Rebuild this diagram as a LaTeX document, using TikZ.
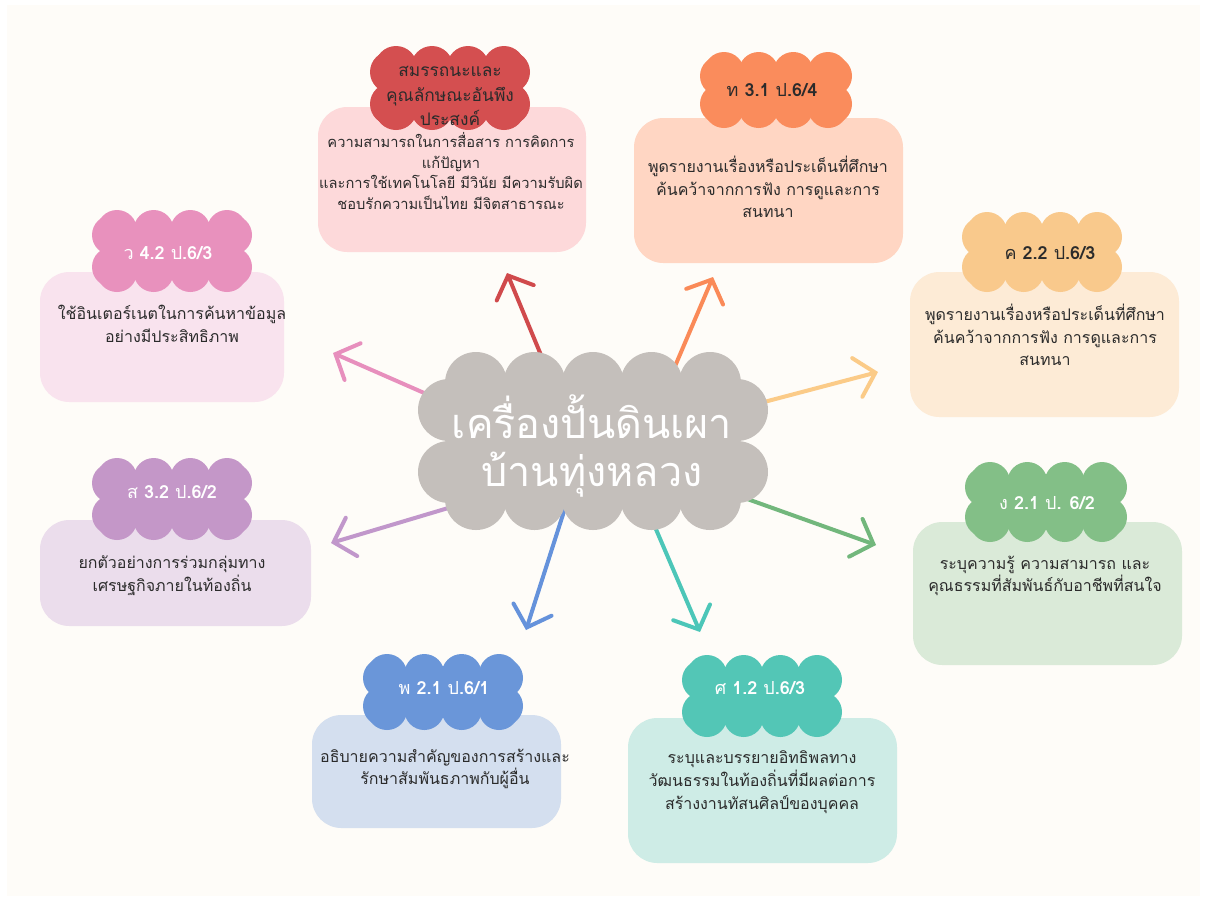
\documentclass[tikz,border=0pt]{standalone}
\usepackage{fontspec}
\newfontfamily\thaifont[Script=Thai]{Loma}
\usetikzlibrary{arrows.meta}
\definecolor{bgcream}{HTML}{FEFCF8}
\definecolor{hubgray}{HTML}{C4BFBB}
\definecolor{txtdark}{HTML}{2B2B2B}
\definecolor{cRed}{HTML}{D44F50}\definecolor{bRed}{HTML}{FDD9DA}\definecolor{aRed}{HTML}{D04A4C}
\definecolor{cOra}{HTML}{FA8C5C}\definecolor{bOra}{HTML}{FFD6C3}\definecolor{aOra}{HTML}{FA8A58}
\definecolor{cYel}{HTML}{F9C98C}\definecolor{bYel}{HTML}{FDEBD6}\definecolor{aYel}{HTML}{FBCB88}
\definecolor{cPnk}{HTML}{E891BD}\definecolor{bPnk}{HTML}{F9E3EE}\definecolor{aPnk}{HTML}{E78FBD}
\definecolor{cPur}{HTML}{C497C8}\definecolor{bPur}{HTML}{EBDDEC}\definecolor{aPur}{HTML}{C197CB}
\definecolor{cBlu}{HTML}{6A96D9}\definecolor{bBlu}{HTML}{D4DFEF}\definecolor{aBlu}{HTML}{6592DB}
\definecolor{cTea}{HTML}{53C6B6}\definecolor{bTea}{HTML}{CEECE6}\definecolor{aTea}{HTML}{4CC6B8}
\definecolor{cGrn}{HTML}{83BF87}\definecolor{bGrn}{HTML}{DAEAD8}\definecolor{aGrn}{HTML}{72B77C}
% scalloped cloud: #1 colour, #2 cx, #3 cy, #4 half width, #5 half height, #6 puff radius, #7 puffs along top, #8 puffs along side, #9 inset
\newcommand\puffshape[9]{%
  \pgfmathsetmacro\pxa{#2-#4+#6+#9}%
  \pgfmathsetmacro\pdx{(2*#4-2*#6-2*#9)/(#7-1)}%
  \pgfmathsetmacro\pya{#3-#5+#6+#9}%
  \pgfmathsetmacro\pdy{(2*#5-2*#6-2*#9)/(#8-1)}%
  \pgfmathtruncatemacro\pnx{#7-1}%
  \pgfmathtruncatemacro\pny{#8-1}%
  \fill[#1] ({#2-#4+#6},{#3-#5+#6}) rectangle ({#2+#4-#6},{#3+#5-#6});
  \foreach \i in {0,...,\pnx}{%
    \fill[#1] ({\pxa+\i*\pdx},{#3-#5+#6}) circle[radius=#6];
    \fill[#1] ({\pxa+\i*\pdx},{#3+#5-#6}) circle[radius=#6];}
  \foreach \j in {0,...,\pny}{%
    \fill[#1] ({#2-#4+#6},{\pya+\j*\pdy}) circle[radius=#6];
    \fill[#1] ({#2+#4-#6},{\pya+\j*\pdy}) circle[radius=#6];}
}
\tikzset{
  panel/.style={rounded corners=22pt},
  bodytext/.style={align=center, text=txtdark, inner sep=0pt,
    font={\thaifont\fontsize{12}{17}\selectfont}},
  tagdark/.style={align=center, text=txtdark, inner sep=0pt,
    font={\thaifont\fontsize{13.5}{18}\selectfont}},
  taglight/.style={align=center, text=white, inner sep=0pt,
    font={\thaifont\fontsize{13.5}{18}\selectfont}},
  hubtext/.style={align=center, text=white, inner sep=0pt,
    font={\thaifont\fontsize{31}{36}\selectfont}},
  spoke/.style={line width=3pt, line cap=round,
    -{Straight Barb[length=14pt,width=30pt,line cap=round]}},
}
\begin{document}
\begin{tikzpicture}[x=0.75pt,y=-0.75pt]
\useasboundingbox (0,0) rectangle (1206,901);
\fill[white] (0,0) rectangle (1206,901);
\fill[bgcream] (7,5) rectangle (1200,896);

% panels
\fill[panel, bRed] (318,107) rectangle (586,252);
\fill[panel, bOra] (634,118) rectangle (903,263);
\fill[panel, bYel] (910,272) rectangle (1179,417);
\fill[panel, bPnk] (40,272) rectangle (284,402);
\fill[panel, bPur] (40,520) rectangle (311,626);
\fill[panel, bBlu] (312,715) rectangle (561,828);
\fill[panel, bTea] (628,718) rectangle (897,863);
\fill[panel, bGrn] (913,522) rectangle (1182,665);

% arrow end points
\coordinate (sR) at (548,372); \coordinate (eR) at (507,273);
\coordinate (sO) at (670,378); \coordinate (eO) at (713,277);
\coordinate (sY) at (745,407); \coordinate (eY) at (878,372);
\coordinate (sG) at (725,491); \coordinate (eG) at (876,545);
\coordinate (sT) at (652,520); \coordinate (eT) at (700,632);
\coordinate (sB) at (566,505); \coordinate (eB) at (526,630);
\coordinate (sP) at (465,503); \coordinate (eP) at (331,543);
\coordinate (sK) at (447,403); \coordinate (eK) at (333,353);

\draw[spoke, aRed] (sR) -- (eR);
\draw[spoke, aOra] (sO) -- (eO);
\draw[spoke, aYel] (sY) -- (eY);
\draw[spoke, aGrn] (sG) -- (eG);
\draw[spoke, aTea] (sT) -- (eT);
\draw[spoke, aBlu] (sB) -- (eB);
\draw[spoke, aPur] (sP) -- (eP);
\draw[spoke, aPnk] (sK) -- (eK);

% hub cloud
\puffshape{hubgray}{593}{441}{175}{89}{31}{5}{2}{27}
\node[hubtext] (hub) at (592,446) {เครื่องปั้นดินเผา\\บ้านทุ่งหลวง};

% tag clouds
\puffshape{cRed}{450}{88}{80}{42}{21}{4}{2}{5}
\puffshape{cOra}{776}{90}{76}{38}{20}{4}{2}{4}
\puffshape{cYel}{1042}{252}{80}{40}{20}{4}{2}{5}
\puffshape{cPnk}{172}{251}{80}{41}{20}{4}{2}{5}
\puffshape{cPur}{172}{499}{80}{41}{20}{4}{2}{5}
\puffshape{cBlu}{443}{692}{80}{38}{20}{4}{2}{4}
\puffshape{cTea}{762}{696}{80}{41}{20}{4}{2}{5}
\puffshape{cGrn}{1046}{502}{81}{40}{20}{4}{2}{5}

\node[tagdark, font={\thaifont\fontsize{13}{18.5}\selectfont}] (tR) at (450,96) {สมรรถนะและ\\คุณลักษณะอันพึง\\ประสงค์};
\node[tagdark] (tO) at (772,90) {ท \textbf{3.1} ป\textbf{.6/4}};
\node[tagdark] (tY) at (1050,253) {ค \textbf{2.2} ป\textbf{.6/3}};
\node[taglight] (tK) at (168,253) {ว \textbf{4.2} ป\textbf{.6/3}};
\node[taglight] (tP) at (172,492) {ส \textbf{3.2} ป\textbf{.6/2}};
\node[taglight] (tB) at (444,688) {พ \textbf{2.1} ป\textbf{.6/1}};
\node[taglight] (tT) at (760,688) {ศ \textbf{1.2} ป\textbf{.6/3}};
\node[taglight] (tG) at (1047,503) {ง \textbf{2.1} ป\textbf{. 6/2}};

% panel texts
\node[bodytext, font={\thaifont\fontsize{11}{15.5}\selectfont}] (xR) at (451,171) {ความสามารถในการสื่อสาร การคิดการ\\แก้ปัญหา\\และการใช้เทคโนโลยี มีวินัย มีความรับผิด\\ชอบรักความเป็นไทย มีจิตสาธารณะ};
\node[bodytext] (xO) at (768,187) {พูดรายงานเรื่องหรือประเด็นที่ศึกษา\\ค้นคว้าจากการฟัง การดูและการ\\สนทนา};
\node[bodytext] (xY) at (1045,335) {พูดรายงานเรื่องหรือประเด็นที่ศึกษา\\ค้นคว้าจากการฟัง การดูและการ\\สนทนา};
\node[bodytext] (xK) at (172,324) {ใช้อินเตอร์เนตในการค้นหาข้อมูล\\อย่างมีประสิทธิภาพ};
\node[bodytext] (xP) at (172,576) {ยกตัวอย่างการร่วมกลุ่มทาง\\เศรษฐกิจภายในท้องถิ่น};
\node[bodytext] (xB) at (445,769) {อธิบายความสำคัญของการสร้างและ\\รักษาสัมพันธภาพกับผู้อื่น};
\node[bodytext] (xT) at (762,782) {ระบุและบรรยายอิทธิพลทาง\\วัฒนธรรมในท้องถิ่นที่มีผลต่อการ\\สร้างงานทัสนศิลป์ของบุคคล};
\node[bodytext] (xG) at (1045,576) {ระบุความรู้ ความสามารถ และ\\คุณธรรมที่สัมพันธ์กับอาชีพที่สนใจ};
\end{tikzpicture}
\end{document}
